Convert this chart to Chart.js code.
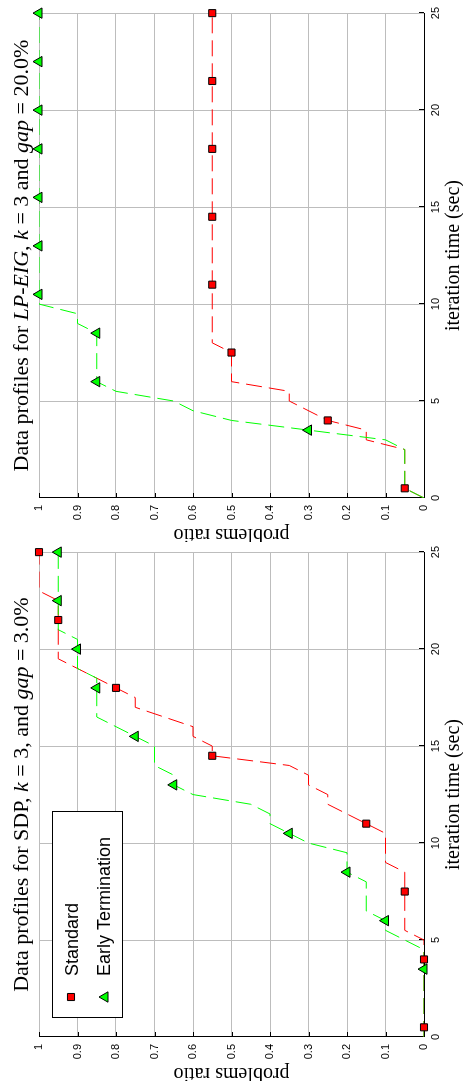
<!DOCTYPE html>
<html>
<head>
<meta charset="utf-8">
<script src="https://cdn.jsdelivr.net/npm/chart.js@4.4.1/dist/chart.umd.min.js"></script>
<style>
  html, body { margin: 0; padding: 0; background: #fff; }
  body { width: 463px; height: 1085px; position: relative; overflow: hidden; }
  .panel { position: absolute; left: 0; top: 0; width: 540px; height: 463px; transform-origin: 0 0; }
  /* the figure is printed sideways: each landscape panel is turned 90deg anticlockwise */
  #panelTop { transform: translate(0px, 542px) rotate(-90deg); }
  #panelBottom { transform: translate(0px, 1081px) rotate(-90deg); }
</style>
</head>
<body>
<div class="panel" id="panelTop"><canvas id="chartTop" width="540" height="463"></canvas></div>
<div class="panel" id="panelBottom"><canvas id="chartBottom" width="540" height="463"></canvas></div>
<script>
// axes
const timeTicks = [0, 5, 10, 15, 20, 25];
const ratioTicks = [0, 0.1, 0.2, 0.3, 0.4, 0.5, 0.6, 0.7, 0.8, 0.9, 1];
const ratioTickLabels = ['0', '0.1', '0.2', '0.3', '0.4', '0.5', '0.6', '0.7', '0.8', '0.9', '1'];
const seriesLabels = ['Standard', 'Early Termination'];

// LP-EIG, gap = 20.0%  (top panel)
const lpStdTime = [0, 0.5, 2.5, 3, 3.5, 4, 5, 5.5, 6, 7.5, 8, 25];
const lpStdRatio = [0, 0.05, 0.05, 0.15, 0.15, 0.25, 0.35, 0.35, 0.5, 0.5, 0.55, 0.55];
const lpEarlyTime = [0, 0.5, 2.5, 3, 3.5, 4, 4.5, 5, 5.5, 6, 8.5, 9, 9.5, 10, 25];
const lpEarlyRatio = [0, 0.05, 0.05, 0.1, 0.3, 0.5, 0.6, 0.65, 0.8, 0.85, 0.85, 0.9, 0.9, 1, 1];
const lpStdMarkTime = [0.5, 4, 7.5, 11, 14.5, 18, 21.5, 25];
const lpStdMarkRatio = [0.05, 0.25, 0.5, 0.55, 0.55, 0.55, 0.55, 0.55];
const lpEarlyMarkTime = [3.5, 6, 8.5, 10.5, 13, 15.5, 18, 20, 22.5, 25];
const lpEarlyMarkRatio = [0.3, 0.85, 0.85, 1, 1, 1, 1, 1, 1, 1];

// SDP, gap = 3.0%  (bottom panel)
const sdpStdTime = [0, 5, 5.5, 8.5, 9, 10.5, 11, 12, 12.5, 13, 13.5, 14, 14.5, 15, 15.5, 16, 17, 17.5, 18, 19.5, 22.5, 23, 25];
const sdpStdRatio = [0, 0, 0.05, 0.05, 0.1, 0.1, 0.15, 0.25, 0.25, 0.3, 0.3, 0.35, 0.55, 0.55, 0.6, 0.6, 0.75, 0.75, 0.8, 0.95, 0.95, 1, 1];
const sdpEarlyTime = [0, 4.5, 5.5, 6, 6.5, 8, 8.5, 9.5, 10, 10.5, 11, 11.5, 12, 12.5, 13, 13.5, 14, 15, 15.5, 16.5, 18.5, 19, 20.5, 21, 25];
const sdpEarlyRatio = [0, 0, 0.1, 0.1, 0.15, 0.15, 0.2, 0.2, 0.3, 0.35, 0.4, 0.4, 0.45, 0.6, 0.65, 0.65, 0.7, 0.7, 0.75, 0.85, 0.85, 0.9, 0.9, 0.95, 0.95];
const sdpStdMarkTime = [0.5, 4, 7.5, 11, 14.5, 18, 21.5, 25];
const sdpStdMarkRatio = [0, 0, 0.05, 0.15, 0.55, 0.8, 0.95, 1];
const sdpEarlyMarkTime = [3.5, 6, 8.5, 10.5, 13, 15.5, 18, 20, 22.5, 25];
const sdpEarlyMarkRatio = [0, 0.1, 0.2, 0.35, 0.65, 0.75, 0.85, 0.9, 0.95, 0.95];

// titles: [text, italic]
const lpTitle = [['Data profiles for ', false], ['LP-EIG', true], [', ', false], ['k', true], [' = 3 and ', false], ['gap', true], [' = 20.0%', false]];
const sdpTitle = [['Data profiles for SDP, ', false], ['k', true], [' = 3, and ', false], ['gap', true], [' = 3.0%', false]];

const RED = '#ff0000';
const GREEN = '#00ff00';
const SERIF = '"Liberation Serif", "Times New Roman", serif';
const SANS = '"Liberation Sans", Arial, sans-serif';

Chart.defaults.font.family = SANS;
Chart.defaults.color = '#000';

const pts = (ts, rs) => ts.map((t, i) => ({ x: t, y: rs[i] }));

const redMarker = { pointStyle: 'rect', radius: 5, rotation: 0, borderWidth: 1 };
const greenMarker = { pointStyle: 'triangle', radius: 6, rotation: 0, borderWidth: 1 };

function titlePlugin(parts) {
  return {
    id: 'profileTitle',
    afterDraw(chart) {
      const ctx = chart.ctx;
      const a = chart.chartArea;
      ctx.save();
      const fonts = parts.map(p => (p[1] ? 'italic ' : '') + '22px ' + SERIF);
      const widths = parts.map((p, i) => { ctx.font = fonts[i]; return ctx.measureText(p[0]).width; });
      let x = (a.left + a.right) / 2 - widths.reduce((s, w) => s + w, 0) / 2;
      ctx.fillStyle = '#000';
      ctx.textAlign = 'left';
      ctx.textBaseline = 'alphabetic';
      parts.forEach((p, i) => {
        ctx.font = fonts[i];
        ctx.fillText(p[0], x, 28);
        x += widths[i];
      });
      ctx.restore();
    }
  };
}

// matlab style ticks pointing into the plot
const innerTicks = {
  id: 'innerTicks',
  beforeDatasetsDraw(chart) {
    const { ctx, chartArea: a, scales } = chart;
    ctx.save();
    ctx.strokeStyle = '#000';
    ctx.lineWidth = 1;
    ctx.beginPath();
    timeTicks.forEach(t => {
      const px = Math.round(scales.x.getPixelForValue(t)) + 0.5;
      ctx.moveTo(px, a.bottom);
      ctx.lineTo(px, a.bottom - 5);
    });
    ratioTicks.forEach(r => {
      const py = Math.round(scales.y.getPixelForValue(r)) + 0.5;
      ctx.moveTo(a.left, py);
      ctx.lineTo(a.left + 5, py);
    });
    ctx.stroke();
    ctx.restore();
  }
};

const legendBox = {
  id: 'legendBox',
  afterDraw(chart) {
    const ctx = chart.ctx;
    ctx.save();
    ctx.fillStyle = '#fff';
    ctx.fillRect(63.5, 52.5, 206, 70);
    ctx.strokeStyle = '#000';
    ctx.lineWidth = 1;
    ctx.strokeRect(63.5, 52.5, 206, 70);
    ctx.fillStyle = RED;
    Chart.helpers.drawPoint(ctx, redMarker, 84, 71);
    ctx.fillStyle = GREEN;
    Chart.helpers.drawPoint(ctx, greenMarker, 84, 105);
    ctx.fillStyle = '#000';
    ctx.font = '18px ' + SANS;
    ctx.textAlign = 'left';
    ctx.textBaseline = 'alphabetic';
    ctx.fillText(seriesLabels[0], 105, 78);
    ctx.fillText(seriesLabels[1], 105, 110);
    ctx.restore();
  }
};

function lineSet(label, data, color, order) {
  return {
    label, data, order,
    borderColor: color,
    borderWidth: 1,
    borderDash: [16, 7],
    pointRadius: 0,
    tension: 0,
    fill: false
  };
}

function markSet(label, data, color, marker, order) {
  return {
    label, data, order,
    showLine: false,
    clip: false,
    pointStyle: marker.pointStyle,
    pointRadius: marker.radius,
    pointBorderWidth: 1,
    pointBorderColor: '#000',
    pointBackgroundColor: color
  };
}

function makeChart(id, series, titleParts, withLegend) {
  const plugins = [innerTicks, titlePlugin(titleParts)];
  if (withLegend) plugins.push(legendBox);
  return new Chart(document.getElementById(id), {
    type: 'line',
    data: {
      datasets: [
        markSet(seriesLabels[1], series.earlyMarks, GREEN, greenMarker, 0),
        markSet(seriesLabels[0], series.stdMarks, RED, redMarker, 1),
        lineSet(seriesLabels[1], series.early, GREEN, 2),
        lineSet(seriesLabels[0], series.std, RED, 3)
      ]
    },
    options: {
      responsive: false,
      devicePixelRatio: 1,
      animation: false,
      layout: { padding: { top: 39, right: 9, left: 0, bottom: 0 } },
      plugins: { legend: { display: false }, tooltip: { enabled: false } },
      scales: {
        x: {
          type: 'linear', min: 0, max: 25,
          afterFit: s => { s.height = 39; },
          afterBuildTicks: s => { s.ticks = timeTicks.map(v => ({ value: v })); },
          grid: { color: '#bdbdbd', lineWidth: 1, drawTicks: false, z: -1 },
          border: { display: true, color: '#000', width: 1 },
          ticks: { padding: 5, maxRotation: 0, font: { size: 11 }, callback: v => String(v) },
          title: { display: true, text: 'iteration time (sec)', font: { family: SERIF, size: 20, lineHeight: 0.8 }, padding: { top: 0, bottom: 1 } }
        },
        y: {
          type: 'linear', min: 0, max: 1,
          afterFit: s => { s.width = 44; },
          afterBuildTicks: s => { s.ticks = ratioTicks.map(v => ({ value: v })); },
          grid: { color: '#bdbdbd', lineWidth: 1, drawTicks: false, z: -1 },
          border: { display: true, color: '#000', width: 1 },
          ticks: { padding: 7, font: { size: 11 }, callback: (v, i) => ratioTickLabels[i] },
          title: { display: true, text: 'problems ratio', font: { family: SERIF, size: 20, lineHeight: 0.8 }, padding: { top: 0, bottom: 0 } }
        }
      }
    },
    plugins
  });
}

makeChart('chartTop', {
  std: pts(lpStdTime, lpStdRatio),
  early: pts(lpEarlyTime, lpEarlyRatio),
  stdMarks: pts(lpStdMarkTime, lpStdMarkRatio),
  earlyMarks: pts(lpEarlyMarkTime, lpEarlyMarkRatio)
}, lpTitle, false);

makeChart('chartBottom', {
  std: pts(sdpStdTime, sdpStdRatio),
  early: pts(sdpEarlyTime, sdpEarlyRatio),
  stdMarks: pts(sdpStdMarkTime, sdpStdMarkRatio),
  earlyMarks: pts(sdpEarlyMarkTime, sdpEarlyMarkRatio)
}, sdpTitle, true);
</script>
</body>
</html>
